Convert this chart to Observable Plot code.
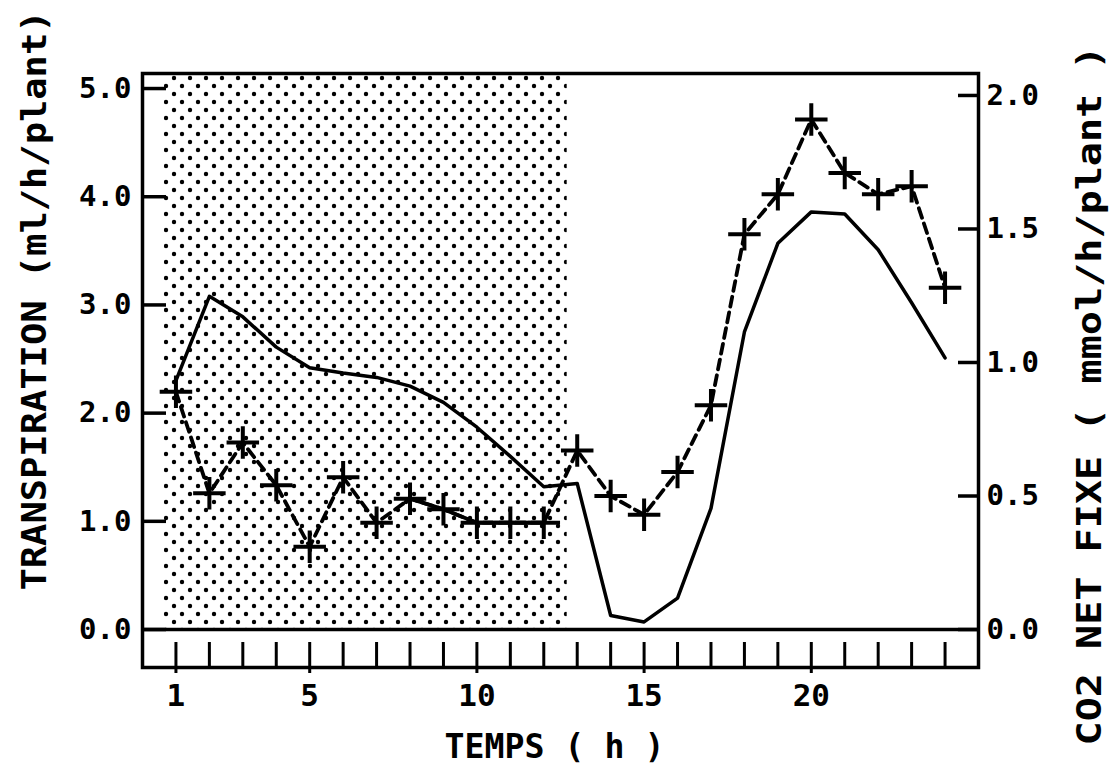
<!DOCTYPE html>
<html>
<head>
<meta charset="utf-8">
<script src="https://cdn.jsdelivr.net/npm/d3@7"></script>
<script src="https://cdn.jsdelivr.net/npm/@observablehq/plot@0.6"></script>
<style>
  html, body { margin: 0; padding: 0; background: #fff; }
  #chart svg { display: block; }
</style>
</head>
<body>
<div id="chart"></div>
<script>
// ---- data ----
const hours = [1, 2, 3, 4, 5, 6, 7, 8, 9, 10, 11, 12, 13, 14, 15, 16, 17, 18, 19, 20, 21, 22, 23, 24];
// Transpiration (ml/h/plant), left axis — solid line
const transpiration = [2.30, 3.08, 2.89, 2.61, 2.42, 2.37, 2.33, 2.25, 2.10, 1.87, 1.60, 1.32, 1.35, 0.13, 0.07, 0.29, 1.12, 2.75, 3.57, 3.86, 3.84, 3.51, 3.02, 2.51];
// CO2 net fixé (mmol/h/plant), right axis — dashed line with + markers
const co2 = [0.89, 0.51, 0.70, 0.54, 0.31, 0.57, 0.40, 0.49, 0.45, 0.40, 0.40, 0.40, 0.67, 0.50, 0.43, 0.59, 0.84, 1.48, 1.63, 1.91, 1.71, 1.63, 1.66, 1.28];
// dark period (dotted background)
const darkStart = [0.65];
const darkEnd = [12.7];
// tick values
const leftTicks = [0, 1, 2, 3, 4, 5];
const rightTicks = [0, 0.5, 1.0, 1.5, 2.0];
const xLabelTicks = [1, 5, 10, 15, 20];

const leftTitle = "TRANSPIRATION (ml/h/plant)";
const rightTitle = "CO2 NET FIXE ( mmol/h/plant )";
const xTitle = "TEMPS ( h )";

// ---- derived tables ----
const K = 2.468; // right-axis units -> left-axis units
const rows = hours.map((h, i) => ({hour: h, transp: transpiration[i], co2: co2[i]}));
const solidCo2 = rows.filter(d => d.hour >= 8 && d.hour <= 12);
const dark = darkStart.map((s, i) => ({start: s, end: darkEnd[i]}));

const W = 1119, H = 768;
const mL = 142, mR = 141, mT = 73, mB = 101;
const innerW = W - mL - mR;
const yMin = -0.351, yMax = 5.139;

const monoFont = "'DejaVu Sans Mono', monospace";
const titleFont = "'DejaVu Sans Mono', monospace";

const svg = Plot.plot({
  width: W,
  height: H,
  marginLeft: mL,
  marginRight: mR,
  marginTop: mT,
  marginBottom: mB,
  style: {fontFamily: monoFont, fontSize: "28px", background: "white", color: "black"},
  x: {domain: [0, 25], label: null},
  y: {domain: [yMin, yMax], label: null},
  marks: [
    Plot.rect(dark, {x1: "start", x2: "end", y1: 0, y2: yMax, fill: "url(#dots)"}),
    Plot.frame({stroke: "black", strokeWidth: 3.5}),
    Plot.ruleY([0], {stroke: "black", strokeWidth: 3.5}),
    // inward tick marks on left and right axes
    Plot.tickY(leftTicks, {y: d => d, insetRight: innerW - 24, stroke: "black", strokeWidth: 3.5}),
    Plot.tickY(rightTicks, {y: d => d * K, insetLeft: innerW - 20, stroke: "black", strokeWidth: 3.5}),
    // x ticks in the bottom band
    Plot.tickX(hours.filter(h => !xLabelTicks.includes(h)), {x: d => d, insetTop: 642 - mT, stroke: "black", strokeWidth: 3}),
    Plot.tickX(xLabelTicks, {x: d => d, insetTop: 642 - mT, insetBottom: -6, stroke: "black", strokeWidth: 3}),
    // axes labels
    Plot.axisY(leftTicks, {anchor: "left", tickSize: 0, tickPadding: 11, tickFormat: d => d.toFixed(1), fontSize: 29, fontWeight: "bold", fontFamily: monoFont, label: null}),
    Plot.axisY(rightTicks.map(v => v * K), {anchor: "right", tickSize: 0, tickPadding: 8, tickFormat: d => (d / K).toFixed(1), fontSize: 29, fontWeight: "bold", fontFamily: monoFont, label: null}),
    Plot.axisX(xLabelTicks, {anchor: "bottom", tickSize: 0, tickPadding: 16, fontSize: 31, fontFamily: monoFont, fontWeight: "bold", label: null}),
    // series
    Plot.line(rows, {x: "hour", y: "transp", stroke: "black", strokeWidth: 3.5}),
    Plot.line(rows, {x: "hour", y: d => d.co2 * K, stroke: "black", strokeWidth: 3.8, strokeDasharray: "10,6"}),
    Plot.line(solidCo2, {x: "hour", y: d => d.co2 * K, stroke: "black", strokeWidth: 3.8}),
    Plot.dot(rows, {x: "hour", y: d => d.co2 * K, symbol: "plus", r: 10.5, stroke: "black", strokeWidth: 4}),
    // titles
    Plot.text([leftTitle], {text: d => d, frameAnchor: "left", rotate: -90, dx: -107, dy: -70, fontSize: 33, fontWeight: "bold", fontFamily: titleFont, textAnchor: "middle", lineAnchor: "middle"}),
    Plot.text([rightTitle], {text: d => d, frameAnchor: "right", rotate: -90, dx: 112, dy: 25, fontSize: 33, fontWeight: "bold", fontFamily: titleFont, textAnchor: "middle", lineAnchor: "middle"}),
    Plot.text([xTitle], {text: d => d, frameAnchor: "bottom", dx: -6, dy: 80, fontSize: 33, fontWeight: "bold", fontFamily: titleFont, textAnchor: "middle", lineAnchor: "middle"})
  ]
});

// dotted pattern for the dark period
const root = d3.select(svg);
const defs = root.insert("defs", ":first-child");
const pat = defs.append("pattern")
  .attr("id", "dots")
  .attr("patternUnits", "userSpaceOnUse")
  .attr("x", 2).attr("y", 2)
  .attr("width", 16).attr("height", 16);
pat.append("rect").attr("width", 16).attr("height", 16).attr("fill", "white");
pat.append("circle").attr("cx", 4).attr("cy", 4).attr("r", 2.2).attr("fill", "black");
pat.append("circle").attr("cx", 12).attr("cy", 12).attr("r", 2.2).attr("fill", "black");

// fit title lengths
const fits = {[leftTitle]: [580, "spacingAndGlyphs"], [rightTitle]: [700, "spacingAndGlyphs"], [xTitle]: [220, "spacingAndGlyphs"]};
root.selectAll("text").each(function () {
  const t = this.textContent;
  if (fits[t]) {
    this.setAttribute("textLength", fits[t][0]);
    this.setAttribute("lengthAdjust", fits[t][1]);
  }
});

document.getElementById("chart").appendChild(svg);
</script>
</body>
</html>
